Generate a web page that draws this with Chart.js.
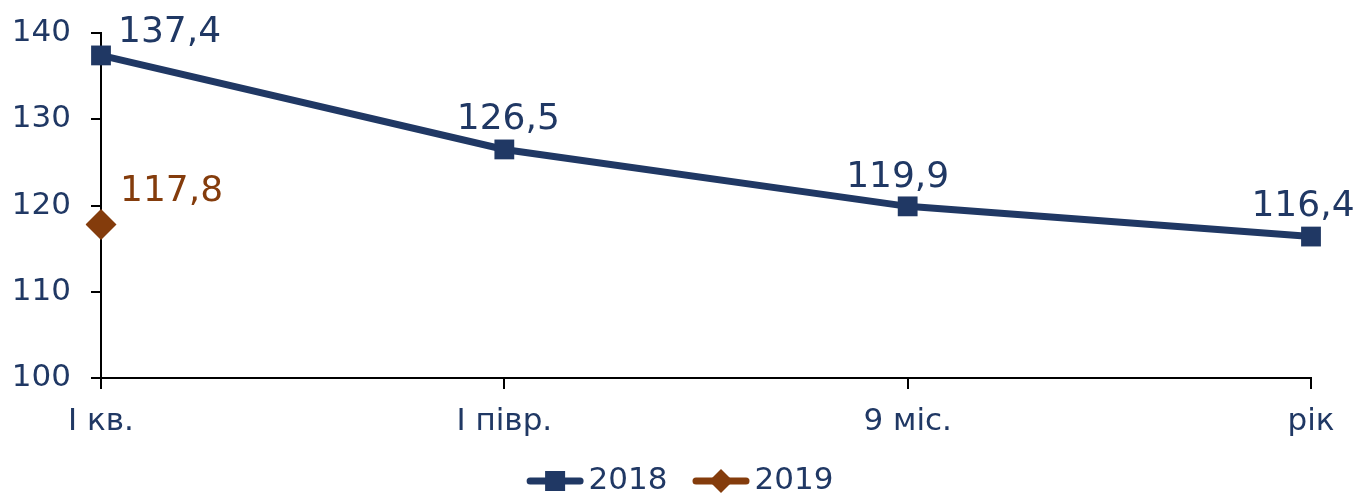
<!DOCTYPE html>
<html>
<head>
<meta charset="utf-8">
<script src="https://cdn.jsdelivr.net/npm/chart.js@4/dist/chart.umd.min.js"></script>
<style>
html,body{margin:0;padding:0;background:#fff;}
#wrap{width:1357px;height:494px;position:relative;}
</style>
</head>
<body>
<div id="wrap"><canvas id="c" width="1357" height="494"></canvas></div>
<script>
const categories = ["I кв.", "I півр.", "9 міс.", "рік"];
const series2018 = [137.4, 126.5, 119.9, 116.4];
const series2019 = [117.8, null, null, null];
const seriesNames = ["2018", "2019"];
const yTicks = [100, 110, 120, 130, 140];

const NAVY = "#203864";
const BROWN = "#843C0C";
const FONT = "'DejaVu Sans', Verdana, sans-serif";

const labelPlugin = {
  id: "valueLabels",
  afterDatasetsDraw(chart, args, opts) {
    const ctx = chart.ctx;
    ctx.save();
    ctx.font = "36px " + FONT;
    ctx.textBaseline = "alphabetic";
    chart.data.datasets.forEach((ds, di) => {
      const meta = chart.getDatasetMeta(di);
      meta.data.forEach((pt, i) => {
        const v = ds.data[i];
        if (v === null || v === undefined) return;
        const txt = v.toFixed(1).replace(".", ",");
        const o = opts.offsets[di][i];
        ctx.fillStyle = ds.borderColor;
        ctx.textAlign = o.align;
        ctx.fillText(txt, pt.x + o.dx, pt.y + o.dy);
      });
    });
    ctx.restore();
  }
};

const legendPlugin = {
  id: "lineLegend",
  afterDraw(chart, args, opts) {
    const ctx = chart.ctx;
    ctx.save();
    ctx.font = opts.fontSize + "px " + FONT;
    ctx.textBaseline = "middle";
    ctx.textAlign = "left";
    const items = chart.data.datasets.map((ds) => ({
      text: ds.label, color: ds.borderColor, style: ds.pointStyle,
      w: opts.lineLen + opts.textGap + ctx.measureText(ds.label).width
    }));
    const total = items.reduce((s, it) => s + it.w, 0) + opts.itemGap * (items.length - 1);
    let x = opts.centerX - total / 2;
    const y = opts.y;
    items.forEach((it) => {
      ctx.strokeStyle = it.color; ctx.lineWidth = 7; ctx.lineCap = "round";
      ctx.beginPath(); ctx.moveTo(x + 3.5, y); ctx.lineTo(x + opts.lineLen - 3.5, y); ctx.stroke();
      ctx.fillStyle = it.color;
      const cx = x + opts.lineLen / 2;
      if (it.style === "rect") {
        ctx.fillRect(cx - 10, y - 10, 20, 20);
      } else {
        ctx.beginPath(); ctx.moveTo(cx, y - 12); ctx.lineTo(cx + 12, y); ctx.lineTo(cx, y + 12); ctx.lineTo(cx - 12, y); ctx.closePath(); ctx.fill();
      }
      ctx.fillStyle = NAVY;
      ctx.fillText(it.text, x + opts.lineLen + opts.textGap, y);
      x += it.w + opts.itemGap;
    });
    ctx.restore();
  }
};

new Chart(document.getElementById("c"), {
  type: "line",
  data: {
    labels: categories,
    datasets: [
      {
        label: seriesNames[0], data: series2018,
        borderColor: NAVY, backgroundColor: NAVY, borderWidth: 7,
        pointStyle: "rect", pointRadius: 14, pointBorderWidth: 0,
        pointBackgroundColor: NAVY, tension: 0
      },
      {
        label: seriesNames[1], data: series2019,
        borderColor: BROWN, backgroundColor: BROWN, borderWidth: 7,
        pointStyle: "rectRot", pointRadius: 15.5, pointBorderWidth: 0,
        pointBackgroundColor: BROWN, tension: 0
      }
    ]
  },
  options: {
    responsive: false,
    animation: false,
    devicePixelRatio: 1,
    layout: { autoPadding: false, padding: { left: 0, right: 46, top: 33, bottom: 56 } },
    scales: {
      x: {
        offset: false,
        afterFit: (s) => { s.height = 60; s.paddingLeft = 0; s.paddingRight = 0; },
        grid: { display: true, drawOnChartArea: false, offset: false, color: "#000", lineWidth: 2, tickLength: 11 },
        border: { display: true, color: "#000", width: 2 },
        ticks: { color: NAVY, font: { family: FONT, size: 31 }, padding: 14, maxRotation: 0, autoSkip: false }
      },
      y: {
        min: 100, max: 140,
        afterBuildTicks: (s) => { s.ticks = yTicks.map(v => ({ value: v })); },
        afterFit: (s) => { s.width = 101; s.paddingTop = 0; s.paddingBottom = 0; },
        grid: { display: true, drawOnChartArea: false, color: "#000", lineWidth: 2, tickLength: 10 },
        border: { display: true, color: "#000", width: 2 },
        ticks: { color: NAVY, font: { family: FONT, size: 31 }, padding: 20 }
      }
    },
    plugins: {
      tooltip: { enabled: false },
      legend: { display: false },
      lineLegend: { centerX: 680, y: 481, fontSize: 31, lineLen: 57, textGap: 5, itemGap: 25 },
      valueLabels: {
        offsets: [
          [{ dx: 17, dy: -13, align: "left" }, { dx: 4, dy: -20, align: "center" }, { dx: -10, dy: -19, align: "center" }, { dx: -8, dy: -21, align: "center" }],
          [{ dx: 19, dy: -23, align: "left" }, null, null, null]
        ]
      }
    }
  },
  plugins: [labelPlugin, legendPlugin]
});
</script>
</body>
</html>
